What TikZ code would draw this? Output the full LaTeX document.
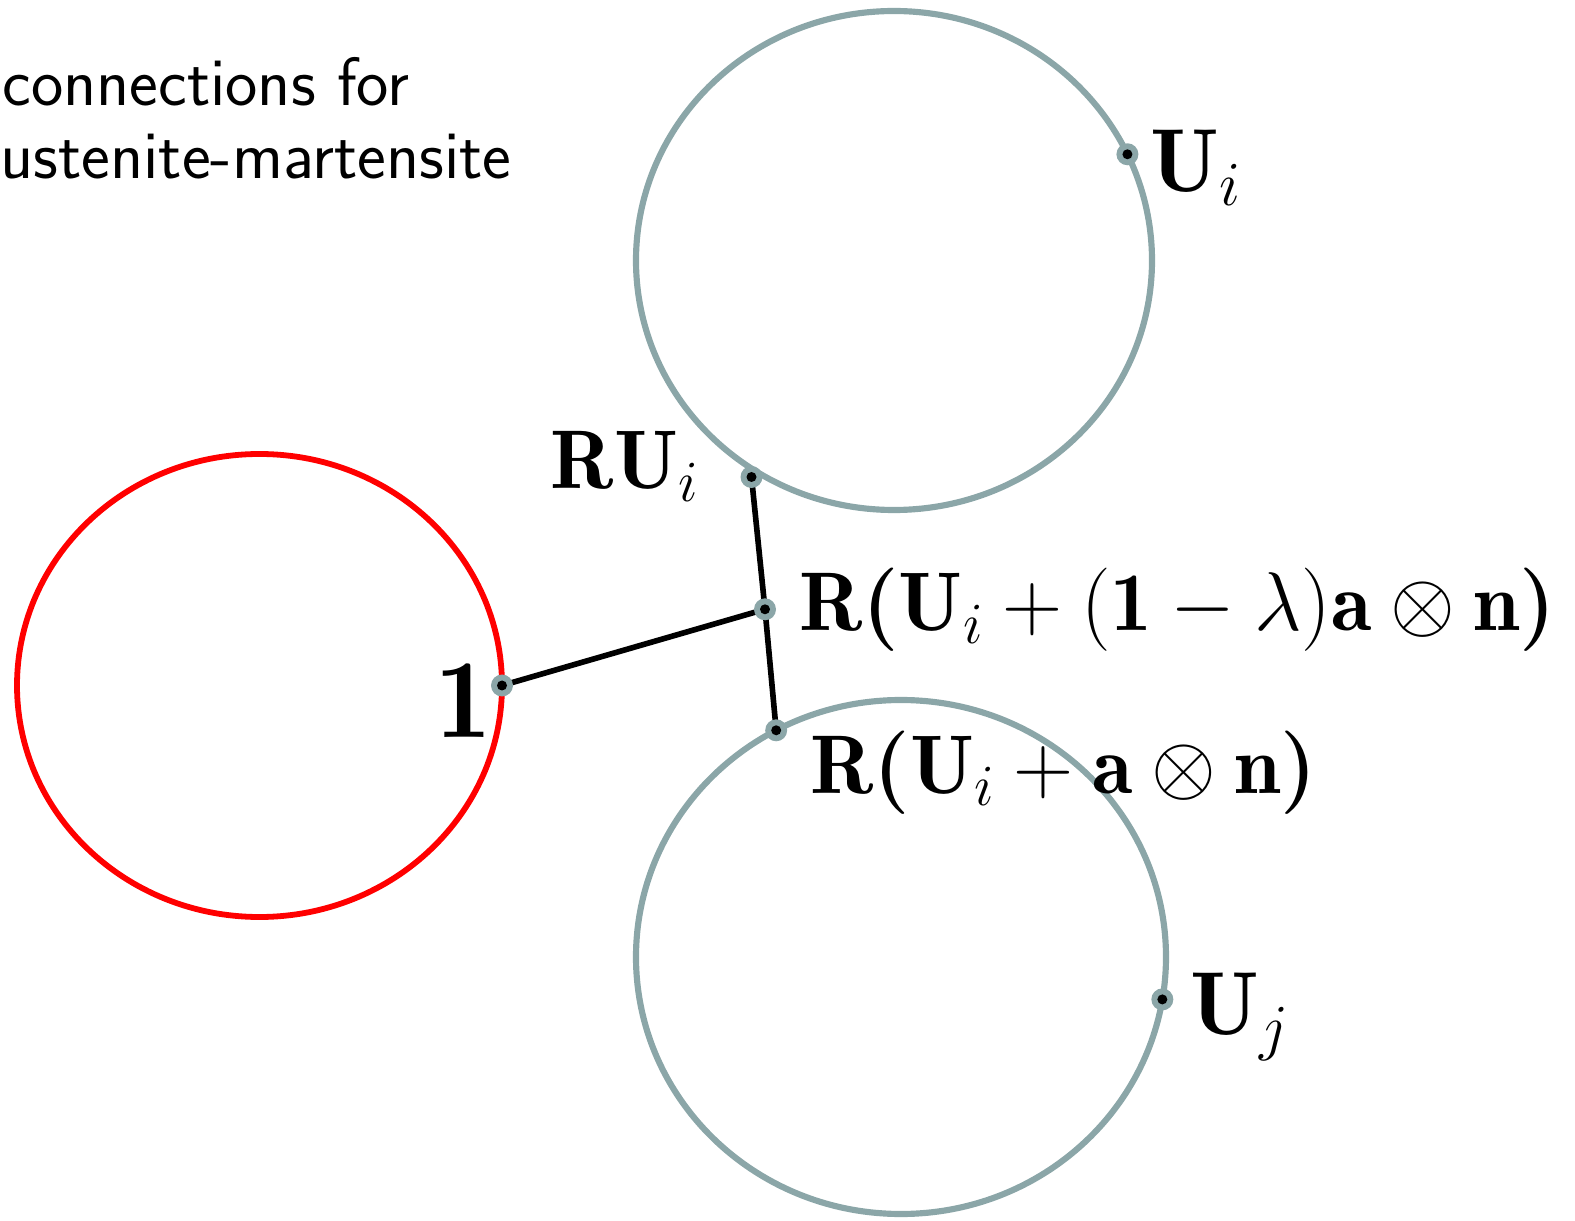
\RequirePackage{fix-cm}
\documentclass[tikz,border=0pt]{standalone}
\usepackage{fontspec}
\usetikzlibrary{calc}
\definecolor{ringgray}{RGB}{139,166,168}
\begin{document}
\begin{tikzpicture}[
  ring/.style={draw=ringgray, line width=1.75pt},
  idring/.style={draw=red, line width=1.65pt},
  link/.style={line width=1.6pt},
  lbl/.style={inner sep=0pt, font=\fontsize{23.7}{28}\selectfont},
  biglbl/.style={inner sep=0pt, font=\fontsize{25.5}{30}\selectfont},
  caption/.style={inner sep=0pt, anchor=base west, font=\sffamily\fontsize{19.5}{22}\selectfont},
]
\useasboundingbox (0,0) rectangle (15.75,12.2);

\node[caption] (cap1) at (0.02,11.145) {connections for};
\node[caption] (cap2) at (0,10.41) {ustenite-martensite};

% wells
\coordinate (idc) at (2.595,5.345);
\coordinate (topc) at (8.94,9.595);
\coordinate (botc) at (9.01,2.63);
\draw[idring] (idc) ellipse [x radius=2.425, y radius=2.315];
\draw[ring] (topc) ellipse [x radius=2.58, y radius=2.495];
\draw[ring] (botc) ellipse [x radius=2.65, y radius=2.57];

% points on the wells
\coordinate (one) at ($(idc)+(0:2.425cm and 2.315cm)$);
\coordinate (ui) at ($(topc)+(25.2:2.58cm and 2.495cm)$);
\coordinate (rui) at (7.515,7.43);
\coordinate (low) at ($(botc)+(118.1:2.65cm and 2.57cm)$);
\coordinate (uj) at ($(botc)+(-9.5:2.65cm and 2.57cm)$);
\coordinate (mid) at (7.65,6.107);

\draw[link] (one) -- (mid);
\draw[link] (rui) -- (mid) -- (low);

\foreach \p in {one,ui,rui,low,uj,mid} {
  \fill[ringgray] (\p) circle (0.11);
  \fill (\p) circle (0.05);
}

\node[inner sep=0pt, anchor=base east, font=\fontsize{32}{36}\selectfont] (onelbl) at (4.92,4.82) {$\mathbf{1}$};
\node[biglbl, anchor=base west] (uilbl) at (11.5,10.28) {$\mathbf{U}_i$};
\node[lbl, anchor=base west] (ruilbl) at (5.5,7.31) {$\mathbf{RU}_i$};
\node[lbl, anchor=base west] (midlbl) at (7.985,5.89) {$\mathbf{R}\textbf{(}\mathbf{U}_i+(\mathbf{1}-\lambda)\mathbf{a}\otimes\mathbf{n}\textbf{)}$};
\node[lbl, anchor=base west] (lowlbl) at (8.096,4.265) {$\mathbf{R}\textbf{(}\mathbf{U}_i+\mathbf{a}\otimes\mathbf{n}\textbf{)}$};
\node[biglbl, anchor=base west] (ujlbl) at (11.9,1.854) {$\mathbf{U}_j$};
\end{tikzpicture}
\end{document}
